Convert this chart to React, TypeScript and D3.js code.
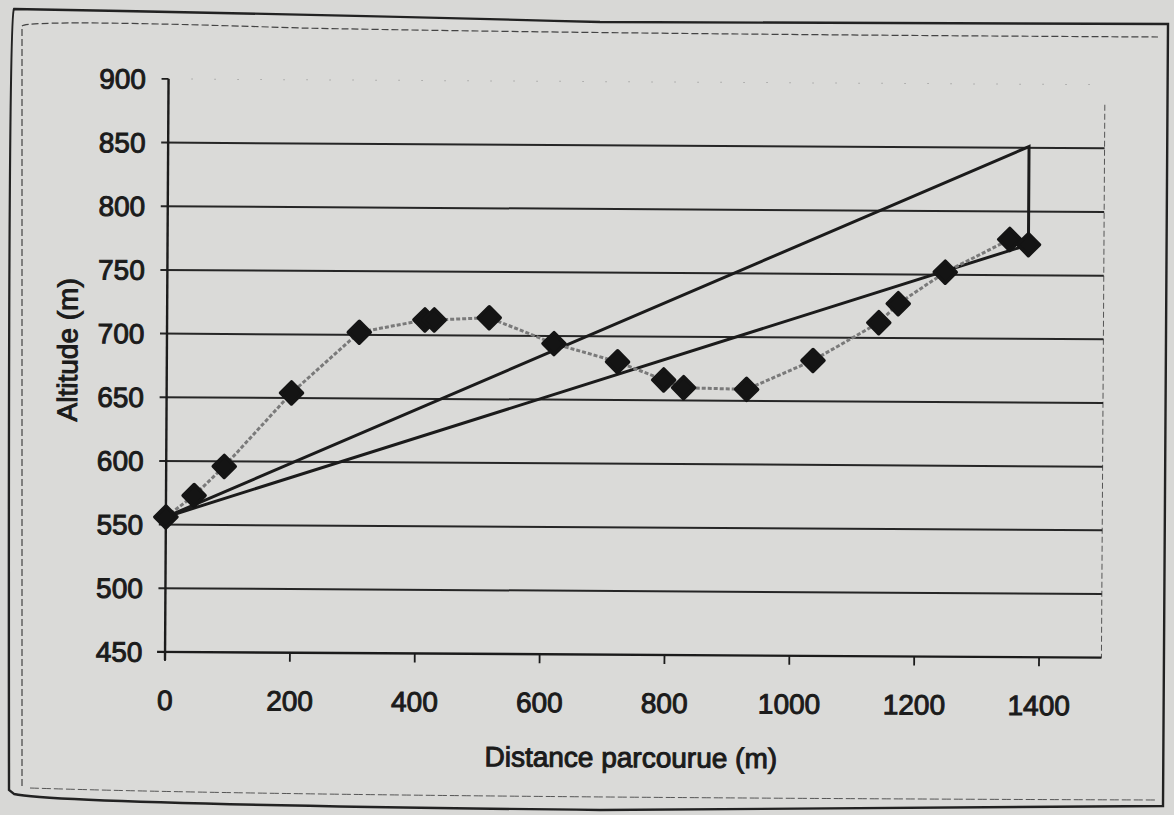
import React, { useEffect } from "react";
import * as d3 from "d3";

// Distance travelled (m) and altitude (m) of each observation point
const distances = [0, 45, 93, 200, 308, 413, 428, 516, 620, 722, 796, 828, 929, 1035, 1140, 1171, 1246, 1349, 1379];
const altitudes = [556, 573, 596, 654, 702, 712, 712, 714, 694, 680, 666, 660, 659, 682, 712, 727, 752, 778, 774];

// Right-angle triangle drawn on the profile: start, top corner, end point
const triDist = [0, 1379, 1379, 0];
const triAlt = [556, 851, 774, 556];

const xTicks = [0, 200, 400, 600, 800, 1000, 1200, 1400];
const yTicks = [450, 500, 550, 600, 650, 700, 750, 800, 850, 900];
const gridTicks = [500, 550, 600, 650, 700, 750, 800, 850];

const xTitle = "Distance parcourue (m)";
const yTitle = "Altitude (m)";

const W = 1174;
const H = 815;
const FONT = "'Liberation Sans', Arial, Helvetica, sans-serif";
const INK = "#1b1b1b";

export default function App() {
  useEffect(() => {
    document.body.style.margin = "0";
    document.body.style.background = "#d8d8d6";
  }, []);

  const x = d3.scaleLinear().domain([0, 1400]).range([166.6, 1040.6]);
  const y = d3.scaleLinear().domain([450, 900]).range([654.6, 81.6]);
  const plotRight = 1103;
  const x0 = x(0);
  const yBase = y(450);

  const profile = d3
    .line<number>()
    .x((_, i) => x(distances[i]))
    .y((_, i) => y(altitudes[i]))(distances) as string;

  const triangle = d3
    .line<number>()
    .x((_, i) => x(triDist[i]))
    .y((_, i) => y(triAlt[i]))(triDist) as string;

  const diamond = (cx: number, cy: number, r: number) =>
    `M${cx},${cy - r}L${cx + r},${cy}L${cx},${cy + r}L${cx - r},${cy}Z`;

  const textStyle = {
    fontFamily: FONT,
    fontSize: 28,
    fill: INK,
    stroke: INK,
    strokeWidth: 1,
  } as React.CSSProperties;

  return (
    <svg
      width={W}
      height={H}
      viewBox={`0 0 ${W} ${H}`}
      style={{ position: "absolute", left: 0, top: 0, display: "block" }}
    >
      <rect x={0} y={0} width={W} height={H} fill="#d8d8d6" />

      {/* scanned page frame */}
      <path
        d="M9,790 Q8,14 14,9 Q300,14 600,22 L1168,24 L1163,806 L600,810 Q60,804 14,794 Z"
        fill="#dadad8"
        stroke="#222"
        strokeWidth={2.4}
      />
      <path
        d="M22,786 L22,26 Q30,19 300,28 Q600,34 1158,37"
        fill="none"
        stroke="#444"
        strokeWidth={1.2}
        strokeDasharray="7 3"
      />
      <path
        d="M30,788 Q300,797 1156,800"
        fill="none"
        stroke="#555"
        strokeWidth={1}
        strokeDasharray="9 3"
      />

      <g transform="rotate(0.35 600 400)">
        {/* plot area right border */}
        <line
          x1={plotRight}
          x2={plotRight}
          y1={y(900) + 20}
          y2={yBase}
          stroke="#555"
          strokeWidth={1}
          strokeDasharray="6 3"
        />
        {/* faint top gridline */}
        <line
          x1={x0}
          x2={plotRight}
          y1={y(900)}
          y2={y(900)}
          stroke="#8a8a8a"
          strokeWidth={1}
          strokeDasharray="1 22"
        />

        {/* gridlines */}
        {gridTicks.map((t) => (
          <line
            key={"g" + t}
            x1={x0 - 7}
            x2={plotRight}
            y1={y(t)}
            y2={y(t)}
            stroke="#262626"
            strokeWidth={2}
          />
        ))}

        {/* x axis */}
        <line x1={x0 - 8} x2={plotRight} y1={yBase} y2={yBase} stroke={INK} strokeWidth={2.4} />
        {xTicks.map((t) => (
          <line
            key={"xt" + t}
            x1={x(t)}
            x2={x(t)}
            y1={yBase}
            y2={yBase + 9}
            stroke={INK}
            strokeWidth={1.8}
          />
        ))}
        {xTicks.map((t) => (
          <text
            key={"xl" + t}
            x={x(t)}
            y={yBase + 58}
            textAnchor="middle"
            style={textStyle}
          >
            {t}
          </text>
        ))}

        {/* y axis */}
        <line x1={x0} x2={x0} y1={y(900)} y2={yBase + 8} stroke={INK} strokeWidth={2.4} />
        <line x1={x0 - 7} x2={x0} y1={y(900)} y2={y(900)} stroke={INK} strokeWidth={1.8} />
        {yTicks.map((t) => (
          <text
            key={"yl" + t}
            x={144}
            y={y(t) + 10}
            textAnchor="end"
            style={textStyle}
          >
            {t}
          </text>
        ))}

        {/* triangle */}
        <path
          d={triangle}
          fill="none"
          stroke={INK}
          strokeWidth={3}
          strokeLinejoin="miter"
        />

        {/* altitude profile */}
        <path
          d={profile}
          fill="none"
          stroke="#7a7a7a"
          strokeWidth={3}
          strokeDasharray="4 2"
        />
        {distances.map((d, i) => (
          <path
            key={"m" + i}
            d={diamond(x(d), y(altitudes[i]), 11)}
            fill="#141414"
            stroke="#141414"
            strokeWidth={3.5}
            strokeLinejoin="round"
          />
        ))}

        {/* axis titles */}
        <text x={633} y={767} textAnchor="middle" style={textStyle}>
          {xTitle}
        </text>
        <text
          transform={`translate(77,353) rotate(-90)`}
          textAnchor="middle"
          style={textStyle}
        >
          {yTitle}
        </text>
      </g>
    </svg>
  );
}
